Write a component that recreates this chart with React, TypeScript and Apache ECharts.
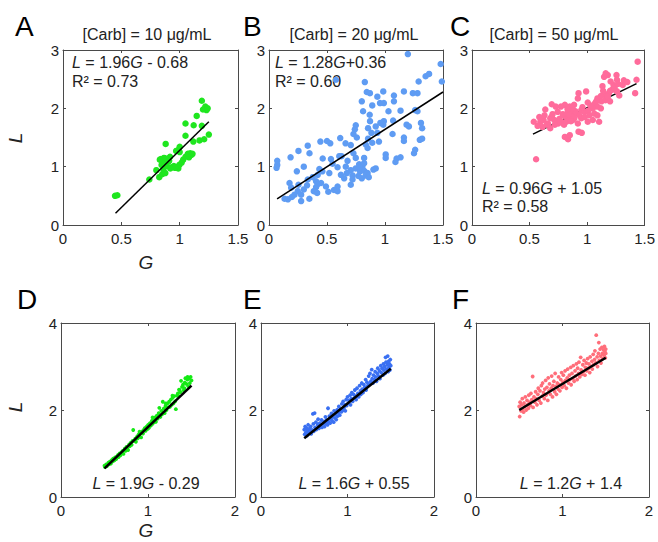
import React, { useEffect, useRef } from 'react';
import * as echarts from 'echarts';

// ---- data: [G, L] pairs ----
const panelA: number[][] = [
  [0.446, 0.5], [0.466, 0.51], [0.74, 0.78], [0.8, 0.94], [0.825, 0.82], [0.85, 0.87], [0.84, 1.13],
  [0.866, 1.15], [0.88, 1.39], [0.86, 0.95], [0.877, 0.89], [0.889, 1.01], [0.9, 1.08], [0.917, 1.17],
  [0.93, 0.99], [0.95, 1.01], [0.97, 0.99], [0.988, 0.97], [0.997, 1.03], [0.97, 1.27], [1.0, 1.34],
  [0.99, 1.29], [1.017, 1.07], [1.03, 1.12], [1.05, 1.17], [1.07, 1.22], [1.09, 1.23], [1.1, 1.2],
  [1.05, 1.53], [1.05, 1.74], [1.12, 1.71], [1.146, 1.87], [1.19, 2.13], [1.22, 2.03], [1.23, 1.97],
  [1.2, 1.98], [1.19, 1.7], [1.117, 1.43], [1.17, 1.45], [1.21, 1.47], [1.25, 1.55], [0.845, 1.03],
  [0.91, 1.1], [0.83, 1.12], [0.88, 1.14], [0.87, 1.05], [0.96, 0.98], [1.0, 1.25], [0.92, 0.97],
  [1.08, 1.16], [1.11, 1.22], [1.24, 2.0],
];

const panelB: number[][] = [
  [0.071, 1.1], [0.071, 1.03], [0.065, 0.98], [1.197, 2.93], [1.48, 2.76], [1.49, 2.46], [0.577, 2.49],
  [0.826, 2.45], [1.29, 2.46], [1.35, 2.55], [1.38, 2.59], [0.843, 2.28], [0.87, 2.26], [0.985, 2.29],
  [0.957, 2.09], [0.99, 2.09], [1.077, 2.22], [1.077, 2.12], [1.163, 2.29], [1.24, 2.26], [1.28, 2.26],
  [0.8, 2.12], [0.934, 2.2], [0.89, 2.05], [0.811, 1.95], [1.134, 1.96], [1.26, 1.97], [1.28, 1.95],
  [0.868, 1.89], [0.99, 1.78], [1.07, 1.79], [0.985, 1.72], [0.871, 1.78], [0.748, 1.71], [0.74, 1.64],
  [0.854, 1.66], [0.883, 1.58], [0.92, 1.69], [0.854, 1.48], [0.89, 1.41], [0.834, 1.38], [0.85, 1.32],
  [0.757, 1.5], [0.728, 1.56], [0.705, 1.37], [0.614, 1.49], [0.528, 1.4], [0.5, 1.44], [0.443, 1.43],
  [0.334, 1.36], [0.254, 1.27], [0.186, 1.16], [0.349, 1.23], [0.463, 1.14], [0.534, 1.13], [0.606, 1.18],
  [0.677, 1.1], [0.748, 1.15], [0.82, 1.15], [0.777, 1.04], [0.805, 1.0], [0.748, 0.97], [0.705, 0.94],
  [0.785, 0.92], [0.82, 0.93], [0.85, 0.89], [0.834, 0.85], [0.77, 0.84], [0.72, 0.85], [0.671, 0.89],
  [0.648, 0.8], [0.591, 0.99], [0.52, 0.89], [0.434, 0.96], [0.42, 0.86], [0.377, 0.82], [0.334, 0.78],
  [0.406, 0.75], [0.449, 0.72], [0.491, 0.66], [0.406, 0.65], [0.386, 0.58], [0.415, 0.55], [0.328, 0.68],
  [0.3, 0.61], [0.254, 0.69], [0.248, 0.58], [0.191, 0.64], [0.177, 0.72], [0.22, 0.52], [0.163, 0.44],
  [0.134, 0.45], [0.197, 0.48], [0.277, 0.41], [0.348, 0.45], [0.277, 0.52], [0.591, 0.66], [0.591, 0.58],
  [0.705, 0.69], [0.72, 0.78], [0.511, 0.57], [0.662, 1.0], [0.92, 0.97], [1.006, 1.21], [1.006, 1.15],
  [1.1, 1.14], [1.134, 1.16], [1.09, 1.08], [1.163, 1.5], [1.163, 1.44], [1.25, 1.23], [1.26, 1.29],
  [1.3, 1.46], [1.32, 1.48], [1.32, 1.66], [1.31, 1.75], [1.186, 1.72], [1.206, 1.69], [1.065, 1.56],
  [0.934, 1.58], [0.948, 1.43], [0.728, 1.23], [0.625, 1.18], [0.548, 1.05], [0.3, 1.0], [0.24, 0.92],
  [0.46, 0.92], [0.56, 0.6], [0.42, 0.7], [0.8, 0.8], [0.86, 0.82], [0.9, 0.95], [0.82, 1.06],
  [0.78, 0.99], [0.62, 0.86], [1.03, 1.95], [0.96, 1.75], [0.66, 1.4],
];

const panelC: number[][] = [
  [0.557, 1.127], [1.44, 2.8], [1.43, 2.49], [1.418, 2.26], [1.18, 2.57], [1.148, 2.54], [1.256, 2.57],
  [1.26, 2.49], [1.32, 2.48], [1.31, 2.4], [1.23, 2.4], [1.205, 2.46], [1.134, 2.38], [1.22, 2.32],
  [1.26, 2.29], [1.19, 2.26], [1.154, 2.23], [1.12, 2.21], [1.09, 2.17], [1.125, 2.12], [1.16, 2.14],
  [1.07, 2.09], [1.09, 2.03], [1.05, 2.0], [1.006, 2.1], [0.992, 2.29], [0.926, 2.26], [0.92, 2.17],
  [0.887, 2.06], [0.85, 2.03], [0.807, 2.06], [0.773, 2.03], [0.728, 2.03], [0.693, 2.07], [0.637, 1.98],
  [0.878, 1.97], [0.835, 1.94], [0.864, 1.91], [0.906, 1.91], [0.95, 1.97], [0.977, 1.94], [1.01, 1.96],
  [1.02, 1.88], [1.063, 1.91], [1.09, 1.88], [1.05, 1.8], [1.006, 1.77], [1.105, 1.77], [0.95, 1.83],
  [0.92, 1.74], [0.878, 1.8], [0.835, 1.83], [0.807, 1.87], [0.779, 1.77], [0.75, 1.74], [0.716, 1.8],
  [0.68, 1.83], [0.66, 1.74], [0.622, 1.8], [0.594, 1.77], [0.537, 1.77], [0.585, 1.85], [0.63, 1.88],
  [0.613, 1.68], [0.68, 1.66], [0.72, 1.72], [0.8, 1.72], [0.807, 1.51], [0.835, 1.47], [0.85, 1.54],
  [0.926, 1.6], [0.954, 1.58], [0.745, 1.94], [0.89, 1.83], [0.935, 1.88], [0.864, 1.86], [0.82, 1.77],
  [0.693, 1.86], [1.162, 2.6], [0.86, 1.78], [0.84, 1.9], [0.9, 1.95], [0.79, 1.9], [0.76, 1.82],
  [0.87, 2.0], [0.83, 1.99], [0.96, 2.02], [1.03, 2.05], [1.12, 2.0], [1.18, 2.2], [1.2, 2.3],
  [1.24, 2.35], [1.27, 2.42], [1.35, 2.45], [1.28, 2.22], [1.14, 2.3], [0.57, 1.7], [0.65, 1.72],
  [0.7, 1.9], [0.98, 1.85], [1.08, 2.12], [1.2, 2.12],
];

const panelD: number[][] = [
  [0.5, 0.72], [0.505, 0.69], [0.52, 0.75], [0.528, 0.71], [0.545, 0.79], [0.551, 0.75], [0.562, 0.81],
  [0.574, 0.77], [0.583, 0.85], [0.593, 0.82], [0.6, 0.88], [0.613, 0.84], [0.622, 0.91], [0.633, 0.87],
  [0.641, 0.93], [0.656, 0.97], [0.662, 0.92], [0.674, 1.0], [0.683, 0.96], [0.698, 1.03], [0.709, 1.06],
  [0.718, 0.99], [0.733, 1.11], [0.742, 1.06], [0.753, 1.15], [0.762, 1.11], [0.771, 1.08], [0.784, 1.21],
  [0.792, 1.17], [0.803, 1.25], [0.812, 1.2], [0.823, 1.29], [0.83, 1.54], [0.842, 1.29], [0.853, 1.34],
  [0.861, 1.27], [0.874, 1.39], [0.882, 1.35], [0.893, 1.44], [0.902, 1.39], [0.911, 1.47], [0.921, 1.37],
  [0.934, 1.51], [0.943, 1.46], [0.952, 1.54], [0.963, 1.58], [0.972, 1.52], [0.984, 1.62], [0.993, 1.56],
  [1.002, 1.66], [1.011, 1.59], [1.023, 1.7], [1.032, 1.64], [1.044, 1.75], [1.052, 1.68], [1.063, 1.79],
  [1.071, 1.72], [1.083, 1.83], [1.091, 1.73], [1.102, 1.87], [1.111, 1.8], [1.123, 1.93], [1.13, 2.05],
  [1.142, 1.84], [1.153, 1.98], [1.162, 1.9], [1.17, 2.19], [1.181, 2.03], [1.192, 1.93], [1.201, 2.09],
  [1.212, 2.0], [1.223, 2.15], [1.232, 2.06], [1.243, 2.19], [1.252, 2.07], [1.263, 2.24], [1.272, 2.12],
  [1.283, 2.28], [1.292, 2.15], [1.301, 2.32], [1.312, 2.2], [1.32, 2.02], [1.332, 2.33], [1.343, 2.38],
  [1.352, 2.32], [1.363, 2.46], [1.372, 2.41], [1.38, 2.67], [1.391, 2.53], [1.402, 2.58], [1.411, 2.45],
  [1.422, 2.63], [1.43, 2.73], [1.441, 2.6], [1.452, 2.7], [1.461, 2.55], [1.472, 2.72], [1.481, 2.62],
  [1.49, 2.76], [1.5, 2.68], [1.455, 2.76], [1.418, 2.5], [1.357, 2.47], [1.281, 2.33], [1.203, 2.15],
  [1.053, 1.83], [0.903, 1.5],
];

const panelE: number[][] = [
  [0.5, 1.55], [0.505, 1.44], [0.51, 1.62], [0.52, 1.49], [0.525, 1.58], [0.53, 1.41], [0.54, 1.53],
  [0.545, 1.66], [0.55, 1.47], [0.56, 1.57], [0.565, 1.5], [0.575, 1.62], [0.58, 1.45], [0.59, 1.54],
  [0.6, 1.91], [0.605, 1.68], [0.61, 1.51], [0.62, 1.93], [0.625, 1.6], [0.635, 1.72], [0.64, 1.55],
  [0.655, 1.66], [0.66, 1.79], [0.67, 1.58], [0.68, 1.7], [0.69, 1.64], [0.7, 1.77], [0.705, 1.6],
  [0.715, 1.68], [0.73, 1.74], [0.735, 1.62], [0.745, 1.84], [0.75, 1.69], [0.76, 1.77], [0.77, 1.66],
  [0.775, 2.04], [0.78, 1.73], [0.79, 1.86], [0.8, 1.7], [0.805, 1.8], [0.815, 1.92], [0.82, 1.76],
  [0.83, 1.84], [0.84, 1.72], [0.845, 1.98], [0.855, 1.82], [0.86, 1.9], [0.87, 1.78], [0.88, 2.0],
  [0.885, 1.86], [0.895, 1.94], [0.9, 2.08], [0.91, 1.88], [0.92, 2.02], [0.93, 1.96], [0.935, 2.14],
  [0.945, 1.99], [0.95, 2.2], [0.96, 2.05], [0.97, 2.12], [0.975, 1.98], [0.985, 2.24], [0.99, 2.1],
  [1.0, 2.3], [1.01, 2.16], [1.02, 2.22], [1.03, 2.34], [1.035, 2.12], [1.045, 2.26], [1.05, 2.4],
  [1.06, 2.2], [1.07, 2.36], [1.08, 2.28], [1.085, 2.46], [1.095, 2.32], [1.1, 2.24], [1.11, 2.5],
  [1.12, 2.38], [1.13, 2.3], [1.14, 2.56], [1.15, 2.44], [1.155, 2.36], [1.165, 2.62], [1.17, 2.48],
  [1.18, 2.4], [1.19, 2.58], [1.2, 2.52], [1.21, 2.7], [1.215, 2.46], [1.225, 2.64], [1.235, 2.56],
  [1.245, 2.78], [1.25, 2.6], [1.26, 2.84], [1.27, 2.66], [1.28, 2.93], [1.285, 2.72], [1.295, 2.62],
  [1.3, 2.8], [1.31, 2.7], [1.32, 2.88], [1.325, 2.76], [1.335, 2.66], [1.345, 2.84], [1.35, 2.96],
  [1.36, 2.78], [1.37, 2.9], [1.375, 2.72], [1.385, 3.02], [1.39, 2.86], [1.4, 2.96], [1.41, 2.8],
  [1.415, 3.06], [1.42, 2.92], [1.43, 3.0], [1.435, 2.84], [1.44, 3.21], [1.445, 3.1], [1.45, 2.94],
  [1.46, 3.04], [1.465, 3.24], [1.47, 2.88], [1.475, 3.12], [1.48, 2.98], [1.485, 3.06], [1.49, 2.92],
  [1.495, 3.16], [1.5, 3.02],
];

const panelF: number[][] = [
  [0.5, 2.08], [0.505, 1.85], [0.51, 2.18], [0.52, 1.98], [0.525, 2.12], [0.535, 2.26], [0.54, 2.02],
  [0.55, 1.95], [0.555, 2.16], [0.565, 2.08], [0.57, 2.3], [0.58, 2.0], [0.59, 2.22], [0.595, 2.12],
  [0.605, 2.04], [0.61, 2.34], [0.62, 2.18], [0.63, 2.1], [0.635, 2.38], [0.645, 2.24], [0.655, 2.77],
  [0.66, 2.06], [0.67, 2.3], [0.68, 2.18], [0.69, 2.42], [0.695, 2.26], [0.705, 2.12], [0.715, 2.36],
  [0.72, 2.5], [0.73, 2.22], [0.74, 2.44], [0.75, 2.16], [0.755, 2.56], [0.765, 2.32], [0.77, 2.62],
  [0.78, 2.4], [0.79, 2.26], [0.795, 2.48], [0.805, 2.68], [0.81, 2.34], [0.82, 2.52], [0.83, 2.22],
  [0.835, 2.74], [0.845, 2.44], [0.85, 2.6], [0.86, 2.36], [0.87, 2.5], [0.875, 2.78], [0.885, 2.3],
  [0.89, 2.56], [0.9, 2.66], [0.91, 2.42], [0.915, 2.84], [0.925, 2.54], [0.93, 2.36], [0.94, 2.62],
  [0.95, 2.48], [0.955, 2.76], [0.965, 2.58], [0.97, 2.44], [0.98, 2.7], [0.99, 2.86], [0.995, 2.52],
  [1.005, 2.64], [1.01, 2.8], [1.02, 2.56], [1.03, 2.9], [1.035, 2.68], [1.045, 2.5], [1.055, 2.74],
  [1.06, 2.94], [1.07, 2.62], [1.08, 2.8], [1.085, 2.7], [1.095, 2.98], [1.1, 2.58], [1.11, 2.84],
  [1.12, 2.72], [1.125, 3.02], [1.135, 2.66], [1.145, 2.9], [1.15, 2.78], [1.16, 3.06], [1.17, 2.7],
  [1.175, 2.96], [1.185, 2.84], [1.19, 3.1], [1.2, 2.76], [1.21, 3.21], [1.215, 2.92], [1.225, 2.82],
  [1.235, 3.04], [1.24, 2.88], [1.25, 3.14], [1.26, 2.8], [1.265, 2.98], [1.275, 3.08], [1.28, 2.9],
  [1.29, 3.18], [1.3, 2.96], [1.305, 3.06], [1.315, 2.86], [1.32, 3.22], [1.33, 3.0], [1.34, 3.12],
  [1.345, 2.94], [1.355, 3.28], [1.36, 3.04], [1.37, 3.16], [1.375, 3.36], [1.385, 3.08], [1.39, 3.72],
  [1.4, 3.22], [1.405, 3.0], [1.415, 3.3], [1.42, 3.55], [1.425, 3.14], [1.435, 3.4], [1.44, 3.24],
  [1.445, 3.08], [1.455, 3.44], [1.46, 3.3], [1.465, 3.18], [1.475, 3.38], [1.48, 3.26], [1.485, 3.46],
  [1.49, 3.34], [1.495, 3.2], [1.5, 3.4], [1.5, 3.3],
];

// linear fits drawn as lines
const slopes = [1.96, 1.28, 0.96, 1.9, 1.6, 1.2];
const intercepts = [-0.68, 0.36, 1.05, -0.29, 0.55, 1.4];
const fitRanges = [[0.45, 1.25], [0.07, 1.5], [0.53, 1.43], [0.5, 1.5], [0.5, 1.5], [0.5, 1.5]];

const panelLetters = ['A', 'B', 'C', 'D', 'E', 'F'];
const titles = ['[Carb] = 10 μg/mL', '[Carb] = 20 μg/mL', '[Carb] = 50 μg/mL'];
const equations = [
  '{i|L} = 1.96{i|G} - 0.68',
  '{i|L} = 1.28{i|G}+0.36',
  '{i|L} = 0.96{i|G} + 1.05',
  '{i|L} = 1.9{i|G} - 0.29',
  '{i|L} = 1.6{i|G} + 0.55',
  '{i|L} = 1.2{i|G} + 1.4',
];
const r2Labels = ['R² = 0.73', 'R² = 0.60', 'R² = 0.58'];

// axis ranges: top row / bottom row
const topRowX = { min: 0, max: 1.5, interval: 0.5 };
const topRowY = { min: 0, max: 3, interval: 1 };
const bottomRowX = { min: 0, max: 2, interval: 1 };
const bottomRowY = { min: 0, max: 4, interval: 2 };

const allData = [panelA, panelB, panelC, panelD, panelE, panelF];
const colors = ['#1fe61f', '#5f9cf3', '#ff6b9b', '#14ea14', '#3a70f2', '#ff6e7a'];

const FONT = '"Liberation Sans", Arial, Helvetica, sans-serif';
const AXIS_COLOR = '#4a4a4a';
const TEXT_COLOR = '#222';

// layout (pixels)
const grids = [
  { left: 63, top: 50, width: 175, height: 175 },
  { left: 269, top: 50, width: 174, height: 175 },
  { left: 472, top: 50, width: 176, height: 175 },
  { left: 61, top: 323, width: 174, height: 174 },
  { left: 261, top: 323, width: 173, height: 174 },
  { left: 476, top: 323, width: 173, height: 174 },
];

function buildOption() {
  const xAxes: any[] = [];
  const yAxes: any[] = [];
  const series: any[] = [];

  grids.forEach((_, i) => {
    const xr = i < 3 ? topRowX : bottomRowX;
    const yr = i < 3 ? topRowY : bottomRowY;
    const line = { show: true, onZero: false, lineStyle: { color: AXIS_COLOR, width: 1 } };
    const tick = { show: true, inside: true, length: 3, lineStyle: { color: AXIS_COLOR, width: 1 } };
    const label = { show: true, color: TEXT_COLOR, fontSize: 15, fontFamily: FONT };
    xAxes.push({
      type: 'value', gridIndex: i, position: 'bottom', ...xr,
      axisLine: line, axisTick: tick, splitLine: { show: false },
      axisLabel: { ...label, margin: 6 },
    });
    xAxes.push({
      type: 'value', gridIndex: i, position: 'top', ...xr,
      axisLine: line, axisTick: tick, splitLine: { show: false }, axisLabel: { show: false },
    });
    yAxes.push({
      type: 'value', gridIndex: i, position: 'left', ...yr,
      axisLine: line, axisTick: tick, splitLine: { show: false },
      axisLabel: { ...label, margin: 4 },
    });
    yAxes.push({
      type: 'value', gridIndex: i, position: 'right', ...yr,
      axisLine: line, axisTick: tick, splitLine: { show: false }, axisLabel: { show: false },
    });

    const [g0, g1] = fitRanges[i];
    const fitLine = {
      type: 'line', xAxisIndex: 2 * i, yAxisIndex: 2 * i,
      data: [[g0, slopes[i] * g0 + intercepts[i]], [g1, slopes[i] * g1 + intercepts[i]]],
      symbol: 'none', silent: true,
      lineStyle: { color: '#000', width: i < 3 ? 1.5 : 2.5 },
      z: i === 2 ? 1 : 3,
    };
    const scatter = {
      type: 'scatter', xAxisIndex: 2 * i, yAxisIndex: 2 * i,
      data: allData[i], symbolSize: i < 3 ? 6.5 : 3.8,
      itemStyle: { color: colors[i], opacity: 1 },
      z: 2,
    };
    series.push(scatter, fitLine);
  });

  const graphics: any[] = [];
  const letterPos = [[15, 26], [243, 26], [450, 26], [17, 299], [243, 299], [452, 299]];
  panelLetters.forEach((t, i) => {
    graphics.push({
      type: 'text', x: letterPos[i][0], y: letterPos[i][1],
      style: { text: t, fontSize: 28, lineHeight: 24, fontFamily: FONT, fill: '#000', align: 'left', verticalAlign: 'middle' },
    });
  });
  const titleX = [147, 354, 554];
  titles.forEach((t, i) => {
    graphics.push({
      type: 'text', x: titleX[i], y: 34,
      style: { text: t, fontSize: 16, fontFamily: FONT, fill: TEXT_COLOR, align: 'center', verticalAlign: 'middle' },
    });
  });
  const rich = { i: { fontStyle: 'italic', fontSize: 16, fontFamily: FONT, fill: TEXT_COLOR } };
  const eqPos: any[] = [
    [72, 62, 'left'], [275, 62, 'left'], [482, 188, 'left'],
    [146, 483, 'center'], [354, 483, 'center'], [571, 483, 'center'],
  ];
  equations.forEach((t, i) => {
    graphics.push({
      type: 'text', x: eqPos[i][0], y: eqPos[i][1],
      style: { text: t, rich, fontSize: 16, fontFamily: FONT, fill: TEXT_COLOR, align: eqPos[i][2], verticalAlign: 'middle' },
    });
  });
  const r2Pos = [[72, 81], [275, 81], [482, 206]];
  r2Labels.forEach((t, i) => {
    graphics.push({
      type: 'text', x: r2Pos[i][0], y: r2Pos[i][1],
      style: { text: t, fontSize: 16, fontFamily: FONT, fill: TEXT_COLOR, align: 'left', verticalAlign: 'middle' },
    });
  });
  [[15, 138], [15, 407]].forEach(([x, y]) => {
    graphics.push({
      type: 'text', x, y, rotation: Math.PI / 2,
      style: { text: 'L', fontSize: 19, fontStyle: 'italic', fontFamily: FONT, fill: TEXT_COLOR, align: 'center', verticalAlign: 'middle' },
    });
  });
  [[146, 262], [146, 530]].forEach(([x, y]) => {
    graphics.push({
      type: 'text', x, y,
      style: { text: 'G', fontSize: 19, lineHeight: 19, fontStyle: 'italic', fontFamily: FONT, fill: TEXT_COLOR, align: 'center', verticalAlign: 'middle' },
    });
  });

  return {
    animation: false,
    backgroundColor: '#fff',
    grid: grids.map((g) => ({ ...g, containLabel: false })),
    xAxis: xAxes,
    yAxis: yAxes,
    series,
    graphic: graphics,
  };
}

export default function App() {
  const ref = useRef<HTMLDivElement>(null);
  useEffect(() => {
    if (!ref.current) return;
    const chart = echarts.init(ref.current, undefined, { renderer: 'svg' });
    chart.setOption(buildOption() as any);
    return () => chart.dispose();
  }, []);
  return (
    <div
      ref={ref}
      style={{ position: 'absolute', left: 0, top: 0, width: 658, height: 542, background: '#fff' }}
    />
  );
}
